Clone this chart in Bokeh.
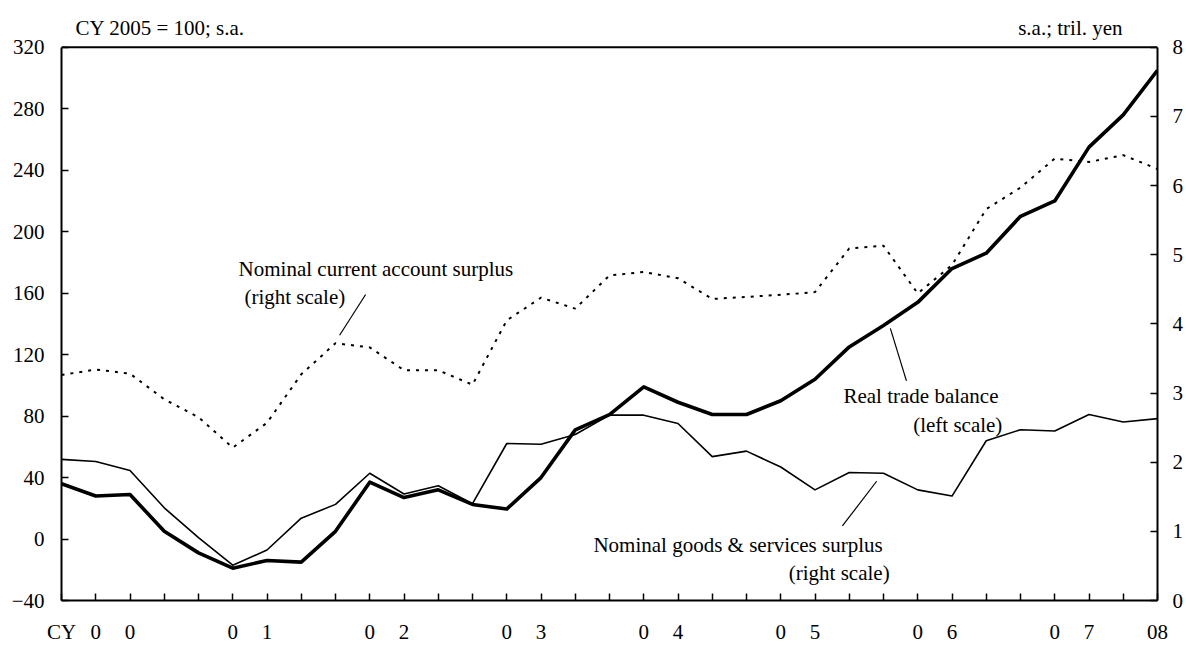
from bokeh.plotting import figure
from bokeh.models import Range1d, LinearAxis, FixedTicker, Label, Span
from bokeh.embed import file_html
from bokeh.resources import INLINE

# ---------------- data (quarterly, 2000Q1 - 2008Q1) ----------------
quarters = [f"{y}Q{q}" for y in range(2000, 2009) for q in range(1, 5)][:33]

# Real trade balance, CY2005 = 100 (left scale)
real_trade_balance = [36, 28, 29, 5, -9, -19, -14, -15, 5, 37, 27, 32,
                      22.5, 19.5, 40, 71, 81, 99, 89, 81, 81, 90, 104,
                      125, 139, 154, 176, 186, 210, 220, 255, 276, 305]

# Nominal goods & services surplus, tril. yen (right scale)
goods_services_surplus = [2.04, 2.01, 1.88, 1.34, 0.91, 0.51, 0.73, 1.19,
                          1.39, 1.84, 1.54, 1.66, 1.40, 2.27, 2.26, 2.40,
                          2.68, 2.68, 2.56, 2.08, 2.16, 1.93, 1.60, 1.85,
                          1.84, 1.60, 1.51, 2.31, 2.47, 2.45, 2.69, 2.58, 2.63]

# Nominal current account surplus, tril. yen (right scale)
current_account_surplus = [3.26, 3.34, 3.28, 2.91, 2.65, 2.21, 2.57, 3.27,
                           3.72, 3.66, 3.33, 3.33, 3.12, 4.05, 4.38, 4.22,
                           4.70, 4.75, 4.66, 4.36, 4.39, 4.42, 4.46, 5.09,
                           5.13, 4.44, 4.85, 5.66, 5.97, 6.39, 6.34, 6.44, 6.24]

x_tick_labels = ["CY", "0", "0", "", "", "0", "1", "", "", "0", "2", "",
                 "", "0", "3", "", "", "0", "4", "", "", "0", "5", "",
                 "", "0", "6", "", "", "0", "7", "", "08"]

left_ticks = [-40, 0, 40, 80, 120, 160, 200, 240, 280, 320]
right_ticks = [0, 1, 2, 3, 4, 5, 6, 7, 8]

FONT = "Liberation Serif"
FS = "21px"

x = list(range(len(quarters)))

# left scale -40..320 drawn on 557 px; extra room above for header texts
px_per_unit = 557 / 360
y_top = 320 + 39 / px_per_unit
r_top = (y_top + 40) / 45

p = figure(width=1186, height=646, output_backend="svg", toolbar_location=None,
           x_range=Range1d(0, 32), y_range=Range1d(-40, y_top),
           min_border_left=61, min_border_right=29, min_border_top=8,
           min_border_bottom=42)
p.extra_y_ranges = {"right": Range1d(0, r_top)}

p.grid.visible = False
p.outline_line_color = None
p.background_fill_color = "white"
p.border_fill_color = "white"

# x axis
xa = p.xaxis[0]
xa.ticker = FixedTicker(ticks=x)
xa.major_label_overrides = {i: lab for i, lab in zip(x, x_tick_labels)}
xa.major_tick_in = 7
xa.major_tick_out = 0
xa.minor_tick_line_color = None
xa.axis_line_width = 2
xa.major_tick_line_width = 1.5
xa.major_label_standoff = 19
xa.major_label_text_font = FONT
xa.major_label_text_font_size = FS
xa.major_label_text_color = "black"

# left axis
ya = p.yaxis[0]
ya.ticker = FixedTicker(ticks=left_ticks)
ya.bounds = (-40, 320)
ya.major_tick_in = 7
ya.major_tick_out = 0
ya.minor_tick_line_color = None
ya.axis_line_width = 2
ya.major_tick_line_width = 1.5
ya.major_label_standoff = 17
ya.major_label_text_font = FONT
ya.major_label_text_font_size = FS
ya.major_label_text_color = "black"

# right axis
ra = LinearAxis(y_range_name="right", ticker=FixedTicker(ticks=right_ticks))
ra.bounds = (0, 8)
ra.major_tick_in = 7
ra.major_tick_out = 0
ra.minor_tick_line_color = None
ra.axis_line_width = 2
ra.major_tick_line_width = 1.5
ra.major_label_standoff = 15
ra.major_label_text_font = FONT
ra.major_label_text_font_size = FS
ra.major_label_text_color = "black"
p.add_layout(ra, "right")

# top border of the plotting box
p.add_layout(Span(location=320, dimension="width", line_color="black",
                  line_width=2))

# series
p.line(x, current_account_surplus, y_range_name="right", line_color="black",
       line_width=2, line_dash="3 6")
p.line(x, goods_services_surplus, y_range_name="right", line_color="black",
       line_width=1.6, line_join="round")
p.line(x, real_trade_balance, line_color="black", line_width=3.6,
       line_join="round")

# annotation texts
def lab(xv, yv, text, align="left"):
    p.add_layout(Label(x=xv, y=yv, text=text, text_font=FONT,
                       text_font_size=FS, text_color="black",
                       text_align=align, text_baseline="middle"))

lab(0.41, 332.3, "CY 2005 = 100; s.a.")
lab(30.98, 332.3, "s.a.; tril. yen", "right")
lab(5.17, 175.9, "Nominal current account surplus")
lab(5.34, 157.2, "(right scale)")
lab(22.83, 93.2, "Real trade balance")
lab(27.47, 74.4, "(left scale)", "right")
lab(15.53, -3.8, "Nominal goods & services surplus")
lab(24.18, -21.9, "(right scale)", "right")

# pointer lines
p.segment(x0=[8.88, 24.2, 23.8], y0=[159.1, 137.1, 37.6],
          x1=[8.12, 24.67, 22.8], y1=[132.6, 102.9, 8.5],
          line_color="black", line_width=1.2)

open("out.html", "w").write(file_html(p, INLINE))
